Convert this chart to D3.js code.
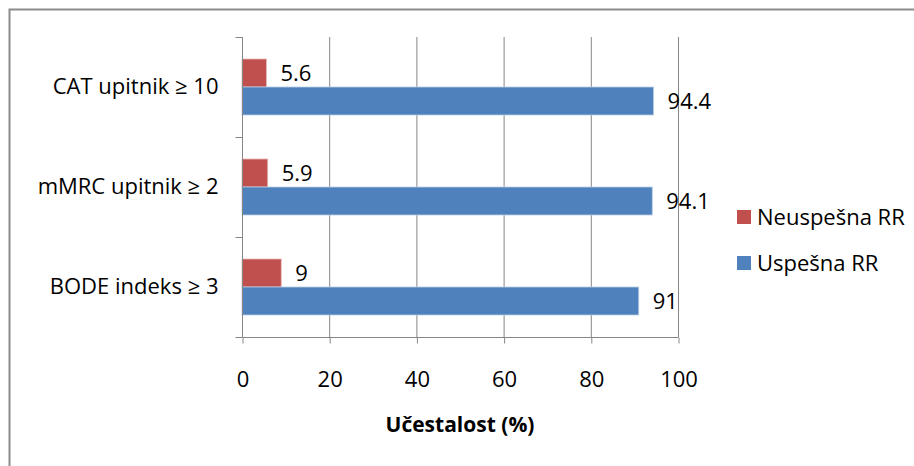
<!DOCTYPE html>
<html><head><meta charset="utf-8">
<script src="https://cdn.jsdelivr.net/npm/d3@7"></script>
<style>html,body{margin:0;padding:0;background:#fff;}svg{display:block;}</style>
</head><body>
<svg id="c" width="914" height="466"></svg>
<script>
const categories = ["CAT upitnik ≥ 10", "mMRC upitnik ≥ 2", "BODE indeks ≥ 3"];
const neuspesna = [5.6, 5.9, 9];
const uspesna = [94.4, 94.1, 91];
const seriesNames = ["Neuspešna RR", "Uspešna RR"];
const seriesColors = ["#C0504D", "#4F81BD"];
const xTicks = [0, 20, 40, 60, 80, 100];
const xTitle = "Učestalost (%)";

const FONT = "'Open Sans', sans-serif";
const FS = 22;
const svg = d3.select("#c");
svg.append("rect").attr("x", 9.5).attr("y", 9.5).attr("width", 930).attr("height", 480)
  .attr("fill", "none").attr("stroke", "#8c8c8c").attr("stroke-width", 2);

const L = 242, R = 678, T = 37, B = 337;
const x = d3.scaleLinear().domain([0, 100]).range([L, R]);
const y = d3.scaleBand().domain(categories).range([T, B]).paddingInner(0.44).paddingOuter(0.22);
const ys = d3.scaleBand().domain(seriesNames).range([0, y.bandwidth()]);

const g = svg.append("g");
g.selectAll("line.grid").data(xTicks.slice(1)).join("line")
  .attr("x1", d => x(d) + 0.5).attr("x2", d => x(d) + 0.5)
  .attr("y1", T).attr("y2", B).attr("stroke", "#868686").attr("stroke-width", 1);

const data = categories.map((c, i) => ({c, vals: [neuspesna[i], uspesna[i]]}));
data.forEach(d => {
  d.vals.forEach((v, k) => {
    const yy = y(d.c) + ys(seriesNames[k]);
    g.append("rect").attr("x", x(0)).attr("y", yy).attr("width", x(v) - x(0)).attr("height", ys.bandwidth())
      .attr("fill", seriesColors[k]).attr("stroke", k === 0 ? "#e6b9b8" : "#b9cde5").attr("stroke-width", 0.8);
    g.append("text").attr("x", x(v) + 14).attr("y", yy + ys.bandwidth() / 2)
      .attr("dy", "0.35em").attr("font-family", FONT).attr("font-size", FS).attr("fill", "#000")
      .text(v);
  });
});

const xAxis = d3.axisBottom(x).tickValues(xTicks).tickSize(6).tickPadding(28).tickFormat(d3.format("d"));
const xa = svg.append("g").attr("transform", `translate(0.5,${B + 0.5})`).call(xAxis);
xa.select(".domain").attr("stroke", "#868686").attr("d", `M${L},0H${R}`);
xa.selectAll(".tick line").attr("stroke", "#868686");
xa.selectAll(".tick text").attr("font-family", FONT).attr("font-size", FS).attr("fill", "#000");

const yAxis = d3.axisLeft(y).tickSize(0).tickPadding(24);
const ya = svg.append("g").attr("transform", `translate(${L + 0.5},0)`).call(yAxis);
ya.select(".domain").attr("stroke", "#868686").attr("d", `M0,${T}V${B}`);
ya.selectAll(".tick text").attr("font-family", FONT).attr("font-size", FS).attr("fill", "#000");
const bounds = [T, ...categories.map(c => y(c) + y.bandwidth() + y.step() * y.paddingInner() / 2)];
ya.selectAll("line.b").data(bounds).join("line").attr("class", "b")
  .attr("x1", -7).attr("x2", 0).attr("y1", d => Math.round(d) + 0.5).attr("y2", d => Math.round(d) + 0.5)
  .attr("stroke", "#868686");

svg.append("text").attr("x", (L + R) / 2).attr("y", 432).attr("text-anchor", "middle")
  .attr("font-family", FONT).attr("font-size", 21).attr("font-weight", "bold").attr("fill", "#000").text(xTitle);

const leg = svg.append("g").attr("transform", "translate(737,210)");
seriesNames.forEach((s, i) => {
  const r = leg.append("g").attr("transform", `translate(0,${i * 46})`);
  r.append("rect").attr("width", 14).attr("height", 14).attr("fill", seriesColors[i]);
  r.append("text").attr("x", 20).attr("y", 7).attr("dy", "0.35em")
    .attr("font-family", FONT).attr("font-size", FS).attr("fill", "#000").text(s);
});
</script>
</body></html>
